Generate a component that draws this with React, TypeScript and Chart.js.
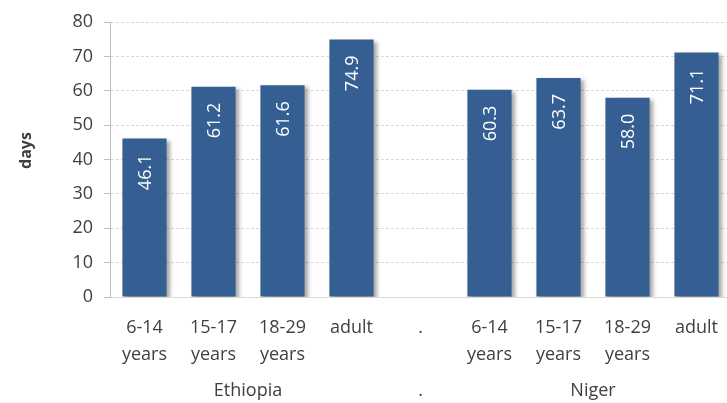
import React, { useEffect, useRef } from "react";
import { Chart, registerables } from "chart.js";

Chart.register(...registerables);

const categories: (string | string[])[] = [
  ["6-14", "years"],
  ["15-17", "years"],
  ["18-29", "years"],
  "adult",
  ".",
  ["6-14", "years"],
  ["15-17", "years"],
  ["18-29", "years"],
  "adult",
];
const values: (number | null)[] = [46.1, 61.2, 61.6, 74.9, null, 60.3, 63.7, 58.0, 71.1];
const groups = [
  { label: "Ethiopia", from: 0, to: 3 },
  { label: ".", from: 4, to: 4 },
  { label: "Niger", from: 5, to: 8 },
];
const yTicks = { min: 0, max: 80, step: 10 };
const yTitle = "days";

const FONT = "'Open Sans', sans-serif";
const BAR = "#355E92";
const TEXT = "#404040";
const FS = 18;

export default function App() {
  const ref = useRef<HTMLCanvasElement>(null);
  useEffect(() => {
    const canvas = ref.current!;
    const shadowPlugin = {
      id: "shadow",
      beforeDatasetsDraw(chart: any) {
        const ctx = chart.ctx;
        ctx.save();
        ctx.shadowColor = "rgba(0,0,0,0.35)";
        ctx.shadowBlur = 4;
        ctx.shadowOffsetX = 3;
        ctx.shadowOffsetY = 2;
      },
      afterDatasetsDraw(chart: any) {
        chart.ctx.restore();
      },
    };
    const labelPlugin = {
      id: "labels",
      afterDraw(chart: any) {
        const ctx = chart.ctx;
        const meta = chart.getDatasetMeta(0);
        ctx.save();
        ctx.fillStyle = "#ffffff";
        ctx.font = `${FS}px ${FONT}`;
        meta.data.forEach((bar: any, i: number) => {
          const v = values[i];
          if (v == null) return;
          ctx.save();
          ctx.translate(bar.x, bar.y + 16);
          ctx.rotate(-Math.PI / 2);
          ctx.textAlign = "right";
          ctx.textBaseline = "middle";
          ctx.fillText(v.toFixed(1), 0, 1);
          ctx.restore();
        });
        // group labels
        const x = chart.scales.x;
        ctx.fillStyle = TEXT;
        ctx.font = `${FS}px ${FONT}`;
        ctx.textAlign = "center";
        ctx.textBaseline = "middle";
        groups.forEach((g) => {
          const cx = (x.getPixelForValue(g.from) + x.getPixelForValue(g.to)) / 2;
          ctx.fillText(g.label, cx, 391);
        });
        // y title
        const y = chart.scales.y;
        ctx.save();
        ctx.translate(26, (y.top + y.bottom) / 2 - 9);
        ctx.rotate(-Math.PI / 2);
        ctx.font = `bold 16px ${FONT}`;
        ctx.fillStyle = TEXT;
        ctx.fillText(yTitle, 0, 0);
        ctx.restore();
        ctx.restore();
      },
    };
    const chart = new Chart(canvas, {
      type: "bar",
      data: {
        labels: categories,
        datasets: [
          {
            data: values,
            backgroundColor: BAR,
            barPercentage: 0.64,
            categoryPercentage: 1,
          },
        ],
      },
      options: {
        animation: false,
        responsive: false,
        layout: { padding: { top: 22, left: 0, right: 0, bottom: 0 } },
        plugins: { legend: { display: false }, tooltip: { enabled: false } },
        scales: {
          x: {
            grid: { display: false },
            border: { display: true, color: "#d9d9d9" },
            ticks: {
              color: TEXT,
              font: { family: FONT, size: FS, lineHeight: 1.5 },
              padding: 9,
              maxRotation: 0,
              autoSkip: false,
            },
            afterFit(scale: any) {
              scale.height = 106;
            },
          },
          y: {
            min: yTicks.min,
            max: yTicks.max,
            ticks: {
              stepSize: yTicks.step,
              color: TEXT,
              font: { family: FONT, size: FS },
              padding: 11,
            },
            grid: { color: "#d9d9d9", tickColor: "#bfbfbf", tickLength: 6 },
            border: { display: true, color: "#bfbfbf", dash: [3, 2] },
            afterFit(scale: any) {
              scale.width = 110;
            },
          },
        },
      },
      plugins: [shadowPlugin, labelPlugin],
    });
    return () => chart.destroy();
  }, []);
  return (
    <div style={{ position: "absolute", left: 0, top: 0, width: 727, height: 403, overflow: "hidden", background: "#fff" }}>
      <canvas ref={ref} width={731} height={403} style={{ display: "block" }} />
    </div>
  );
}
